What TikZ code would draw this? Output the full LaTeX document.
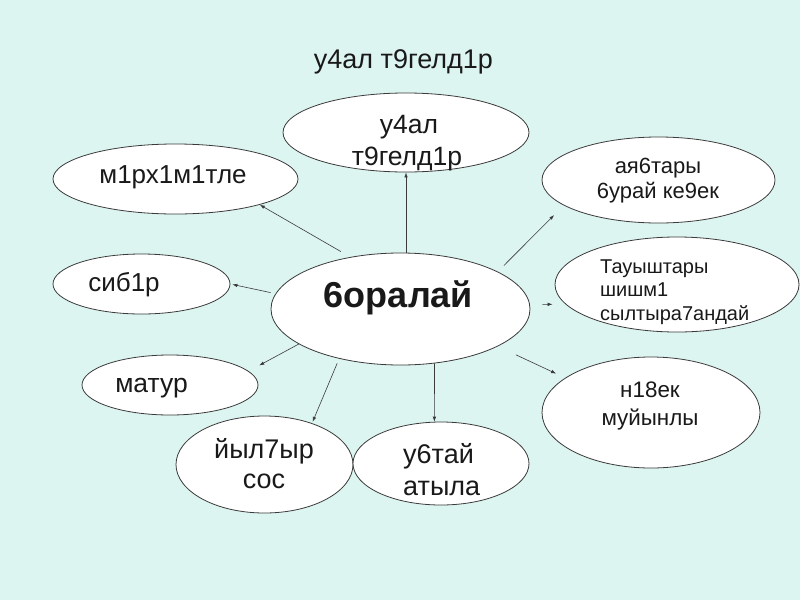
\documentclass[tikz,border=0pt]{standalone}
\usepackage{fontspec}
\setmainfont{Liberation Sans}
\usetikzlibrary{shapes.geometric,arrows.meta}
\definecolor{sheet}{HTML}{DDF5F1}
\definecolor{rim}{HTML}{3A3A3A}
\newcommand{\txtsize}[2]{\fontsize{#1}{#2}\selectfont}

\begin{document}
\begin{tikzpicture}[x=1pt,y=-1pt]
    \tikzset{bubble/.style = {shape = ellipse,draw=rim,fill=white,line width=0.8pt,inner sep = 0pt}, link/.style = {draw=rim,line width=.6pt,-{Latex[length=5pt,width=3.5pt]}}, word/.style={inner sep=0pt,anchor=base,text=black!90}}
    \fill[sheet] (0,0) rectangle (800,600);
    % title
    \node[word,font=\txtsize{27}{32}] (head) at (403.5,68) {у4ал т9гелд1р};
    % ellipses
    \node[bubble,minimum width=259pt,minimum height=112pt] (c) at (400.5,309){};
    \node[bubble,minimum width=246pt,minimum height=79pt] (t) at (406,132.5){};
    \node[bubble,minimum width=245pt,minimum height=70pt] (m) at (175.5,179){};
    \node[bubble,minimum width=177pt,minimum height=60pt] (s) at (141.5,284){};
    \node[bubble,minimum width=176pt,minimum height=60pt] (mt) at (170,385){};
    \node[bubble,minimum width=177pt,minimum height=97pt] (y) at (264.5,464.5){};
    \node[bubble,minimum width=176pt,minimum height=83pt] (u) at (441,463.5){};
    \node[bubble,minimum width=233pt,minimum height=86pt] (a) at (658.5,180){};
    \node[bubble,minimum width=244pt,minimum height=95pt] (w) at (677,284.5){};
    \node[bubble,minimum width=218pt,minimum height=111pt] (n) at (651,412.5){};
    % texts
    \node[word,font=\txtsize{36}{42}\bfseries] (ct) at (398.5,307) {6оралай};
    \node[word,font=\txtsize{26.5}{31.7},align=center] (tt) at (407,165) {\hspace*{4pt}у4ал\\т9гелд1р};
    \node[word,font=\txtsize{26}{31}] (mtx) at (173,183.3) {м1рх1м1тле};
    \node[word,font=\txtsize{26}{31}] (stx) at (124,291.7) {сиб1р};
    \node[word,font=\txtsize{26.5}{31}] (mttx) at (151.5,392.3) {матур};
    \node[word,font=\txtsize{27}{30},align=center] (ytx) at (264,488.3) {йыл7ыр\\сос};
    \node[word,font=\txtsize{27}{31.7},align=left,anchor=base west] (utx) at (403,495) {у6тай\\атыла};
    \node[word,font=\txtsize{22}{25},align=center] (atx) at (658,198.3) {ая6тары\\6урай ке9ек};
    \node[word,font=\txtsize{20}{23.3},align=left,anchor=base west] (wtx) at (600,320) {Тауыштары\\шишм1\\сылтыра7андай};
    \node[word,font=\txtsize{22.4}{27.3},align=center] (ntx) at (650,425) {н18ек\\муйынлы};
    % arrows
    \draw[link] (c.north -| t.south) -- (t.south);
    \draw[link,shorten <=10.8pt] (c.134.2) -- (m.-17.1);
    \draw[link,shorten <=5pt,shorten >=2pt] (c.173.7) -- (s.east);
    \draw[link,shorten >=12pt] (c.199.2) -- (mt.10.7);
    \draw[link,shorten <=5pt,shorten >=1.5pt] (c.219.3) -- (y.41.2);
    \draw[link] (c.-58.2) -- (u.99.6);
    \draw[link,shorten <=20pt,shorten >=10pt] (c.-21.2) -- (n.158.8);
    \draw[link,shorten <=12.5pt,shorten >=12.8pt] (c.2.2) -- (w.190);
    \draw[link,shorten <=8.7pt,shorten >=13.6pt] (c.21.8) -- (a.195.4);
\end{tikzpicture}
\end{document}
